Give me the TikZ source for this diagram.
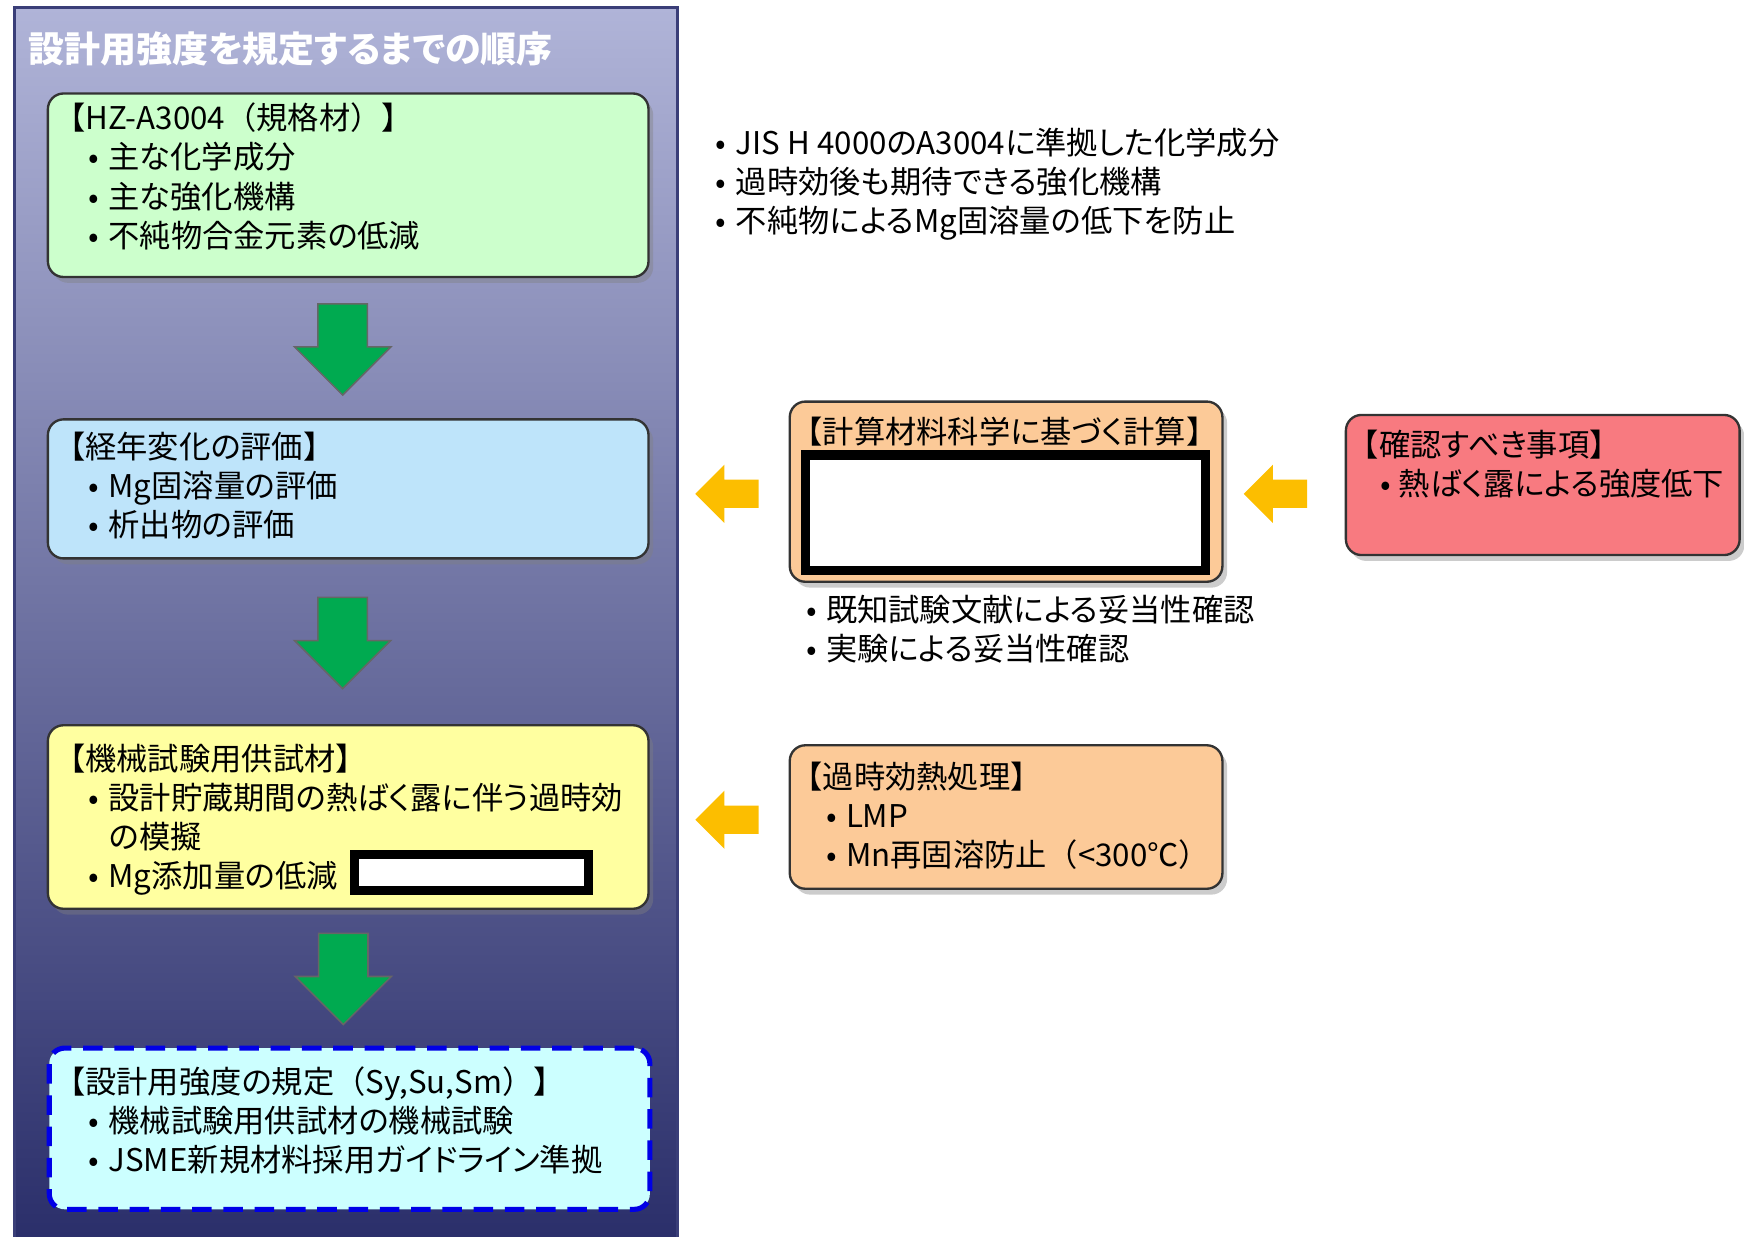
\documentclass[tikz,border=0pt]{standalone}
\usepackage{fontspec}
\setmainfont{Noto Sans CJK JP}[RawFeature=+palt]
\newfontfamily\fw{Noto Sans CJK JP}
\usetikzlibrary{positioning,calc,shapes.arrows,shadows}

\definecolor{paneltop}{RGB}{176,180,216}
\definecolor{panelbot}{RGB}{40,44,104}
\definecolor{paneledge}{RGB}{58,62,120}
\definecolor{boxgreen}{RGB}{204,255,204}
\definecolor{boxblue}{RGB}{190,228,250}
\definecolor{boxyellow}{RGB}{255,255,160}
\definecolor{boxcyan}{RGB}{204,255,255}
\definecolor{boxpeach}{RGB}{252,202,152}
\definecolor{boxred}{RGB}{248,122,128}
\definecolor{arrgreen}{RGB}{0,170,80}
\definecolor{arramber}{RGB}{252,190,0}
\definecolor{dashblue}{RGB}{0,0,230}

\newcommand{\itm}{\hspace*{1.1em}•\hspace{0.3em}}
\newcommand{\cont}{\hspace*{1.75em}}
\newcommand{\bt}[1]{{\fw 【}#1{\fw 】}}

\tikzset{
	every node/.style={font=\fontsize{8pt}{10pt}\selectfont},
	panelbox/.style={anchor=north west, inner sep=0pt, minimum width=5.96cm, minimum height=11.3cm,
		top color=paneltop, bottom color=panelbot, draw=paneledge, line width=0.8pt},
	paneltitle/.style={anchor=west, inner sep=0pt, text=white, font=\bfseries\fontsize{9.2pt}{11pt}\selectfont},
	stepbox/.style={anchor=north west, inner sep=0pt, draw=black!80, line width=0.6pt, rounded corners=4pt,
		drop shadow={shadow xshift=1.2pt, shadow yshift=-1.5pt, opacity=0.4}},
	dashbox/.style={anchor=north west, inner sep=0pt, draw=dashblue, line width=1.3pt, rounded corners=4pt,
		dash pattern=on 5pt off 3pt},
	boxtext/.style={anchor=north west, inner sep=0pt, align=left},
	mask/.style={draw=black, fill=white, line width=2.3pt, inner sep=0pt},
	downarrow/.style={single arrow, rotate=-90, fill=arrgreen, draw=black!60, line width=0.4pt,
		inner xsep=0pt, inner ysep=0.215cm, minimum height=0.82cm, minimum width=0.85cm, single arrow head extend=0.21cm},
	leftarrow/.style={single arrow, rotate=180, fill=arramber, inner xsep=0pt, inner ysep=0.12cm,
		minimum height=0.57cm, minimum width=0.51cm, single arrow head extend=0.135cm},
}

\begin{document}
\begin{tikzpicture}
	\useasboundingbox (0,0) rectangle (15.68,-11.12);
	
	% left column
	\node[panelbox] (P) at (0.12,-0.05) {};
	\node[paneltitle] (T) at (0.25,-0.44) {設計用強度を規定するまでの順序};
	
	\node[stepbox, fill=boxgreen, minimum width=5.40cm, minimum height=1.65cm] (A) at (0.42,-0.83) {};
	\node[boxtext, below right=0.09cm and 0.06cm of A.north west] (At) {\bt{HZ-A3004{\fw（}規格材{\fw）}}\\ \itm 主な化学成分\\ \itm 主な強化機構\\ \itm 不純物合金元素の低減};
	
	\node[stepbox, fill=boxblue, minimum width=5.40cm, minimum height=1.25cm] (B) at (0.42,-3.76) {};
	\node[boxtext, below right=0.12cm and 0.06cm of B.north west] (Bt) {\bt{経年変化の評価}\\ \itm Mg固溶量の評価\\ \itm 析出物の評価};
	
	\node[stepbox, fill=boxyellow, minimum width=5.40cm, minimum height=1.65cm] (S) at (0.42,-6.51) {};
	\node[boxtext, below right=0.17cm and 0.06cm of S.north west] (St) {\bt{機械試験用供試材}\\ \itm 設計貯蔵期間の熱ばく露に伴う過時効\\ \cont の模擬\\ \itm Mg添加量の低減};
	\node[mask, minimum width=2.10cm, minimum height=0.33cm] (M1) at (4.24,-7.845) {};
	
	\node[dashbox, fill=boxcyan, minimum width=5.40cm, minimum height=1.45cm] (D) at (0.42,-9.40) {};
	\node[boxtext, below right=0.18cm and 0.06cm of D.north west] (Dt) {\bt{設計用強度の規定{\fw（}Sy,Su,Sm{\fw）}}\\ \itm 機械試験用供試材の機械試験\\ \itm JSME新規材料採用ガイドライン準拠};
	
	\node[downarrow] (d1) at ($(A.south)!0.5!(B.north)+(-0.05,0.10)$) {};
	\node[downarrow] (d2) at ($(B.south)!0.5!(S.north)+(-0.05,0.10)$) {};
	\node[downarrow] (d3) at ($(S.south)!0.5!(D.north)+(-0.05,0.10)$) {};
	
	% right side
	\node[boxtext] (N) at (6.43,-1.14) {•\hspace{0.3em}JIS H 4000のA3004に準拠した化学成分\\ •\hspace{0.3em}過時効後も期待できる強化機構\\ •\hspace{0.3em}不純物によるMg固溶量の低下を防止};
	
	\node[stepbox, fill=boxpeach, minimum width=3.89cm, minimum height=1.62cm] (C) at (7.09,-3.60) {};
	\node[boxtext, below right=0.14cm and 0.02cm of C.north west] (Ct) {\bt{計算材料科学に基づく計算}};
	\node[mask, line width=2.4pt, minimum width=3.595cm, minimum height=1.035cm] (M2) at (9.04,-4.61) {};
	\node[boxtext] (V) at (7.24,-5.34) {•\hspace{0.3em}既知試験文献による妥当性確認\\ •\hspace{0.3em}実験による妥当性確認};
	
	\node[stepbox, fill=boxred, minimum width=3.54cm, minimum height=1.26cm] (R) at (12.09,-3.72) {};
	\node[boxtext, below right=0.14cm and 0.02cm of R.north west] (Rt) {\bt{確認すべき事項}\\ \hspace*{1.05em}•\hspace{0.25em}熱ばく露による強度低下};
	
	\node[stepbox, fill=boxpeach, minimum width=3.89cm, minimum height=1.29cm] (H) at (7.09,-6.69) {};
	\node[boxtext, below right=0.15cm and 0.02cm of H.north west] (Ht) {\bt{過時効熱処理}\\ \itm LMP\\ \itm Mn再固溶防止{\fw（}<300{\fw ℃）}};
	
	\node[leftarrow] (l1) at (6.60,-4.44) {};
	\node[leftarrow] (l2) at (11.53,-4.44) {};
	\node[leftarrow] (l3) at (6.60,-7.37) {};
\end{tikzpicture}
\end{document}
